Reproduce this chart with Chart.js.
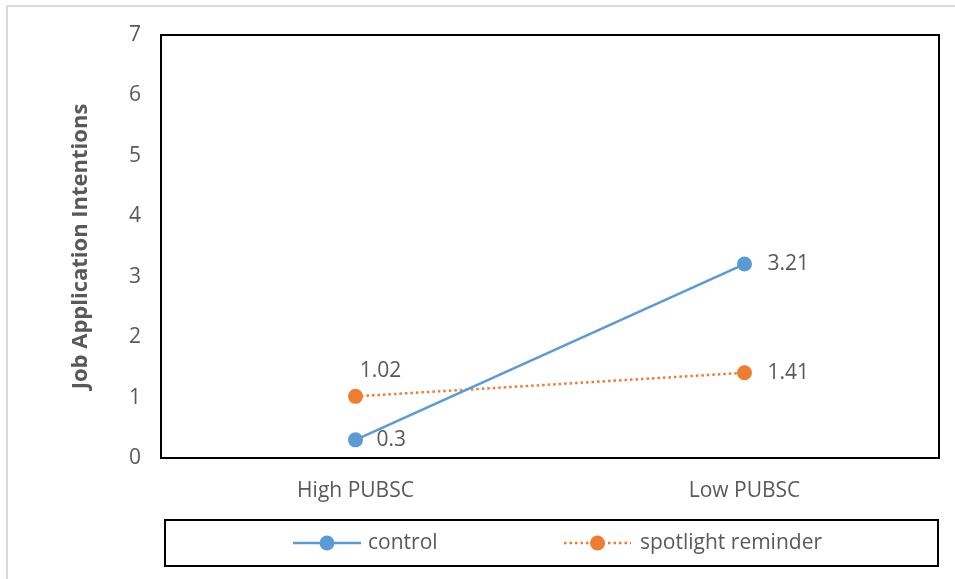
<!DOCTYPE html>
<html>
<head>
<meta charset="utf-8">
<style>
  html, body { margin: 0; padding: 0; background: #ffffff; }
  #wrap { width: 955px; height: 579px; position: relative; }
</style>
<script src="https://cdn.jsdelivr.net/npm/chart.js@4/dist/chart.umd.min.js"></script>
</head>
<body>
<div id="wrap"><canvas id="chart" width="955" height="579"></canvas></div>
<script>
// Categories, series and axis values
const categories = ['High PUBSC', 'Low PUBSC'];
const controlValues = [0.3, 3.21];
const spotlightValues = [1.02, 1.41];
const seriesNames = ['control', 'spotlight reminder'];
const yTicks = [0, 1, 2, 3, 4, 5, 6, 7];
const yTitle = 'Job Application Intentions';

const FONT = '"Open Sans", "Liberation Sans", sans-serif';
const TEXT = '#595959';
const BLUE = '#5B9BD5';
const ORANGE = '#ED7D31';
const SIZE = 21;

// Value labels beside each point: [dx, dy, align]
const labelPlacement = [
  [[21, 0, 'left'], [23, 0, 'left']],
  [[25, -25, 'center'], [23, 0, 'left']]
];

const framePlugin = {
  id: 'frame',
  beforeDraw(chart) {
    const ctx = chart.ctx;
    ctx.save();
    // outer light border
    ctx.strokeStyle = '#d9d9d9';
    ctx.lineWidth = 2;
    ctx.beginPath();
    ctx.moveTo(7, 579);
    ctx.lineTo(7, 6);
    ctx.lineTo(960, 6);
    ctx.stroke();
    ctx.restore();
  },
  afterDatasetsDraw(chart) {
    const ctx = chart.ctx;
    const a = chart.chartArea;
    ctx.save();
    // plot area border
    ctx.strokeStyle = '#000000';
    ctx.lineWidth = 2;
    ctx.strokeRect(a.left, a.top, a.right - a.left, a.bottom - a.top);

    // value labels
    ctx.font = SIZE + 'px ' + FONT;
    ctx.fillStyle = TEXT;
    ctx.textBaseline = 'middle';
    chart.data.datasets.forEach((ds, di) => {
      const meta = chart.getDatasetMeta(di);
      meta.data.forEach((pt, i) => {
        const [dx, dy, align] = labelPlacement[di][i];
        ctx.textAlign = align;
        ctx.fillText(String(ds.data[i]), pt.x + dx, pt.y + dy);
      });
    });

    // legend box
    ctx.strokeStyle = '#000000';
    ctx.lineWidth = 2;
    ctx.strokeRect(165, 520, 773, 46);
    const ly = 543;
    const items = [
      { x0: 293, x1: 361, text: 368 },
      { x0: 564, x1: 631, text: 640 }
    ];
    chart.data.datasets.forEach((ds, di) => {
      const it = items[di];
      ctx.strokeStyle = ds.borderColor;
      ctx.lineWidth = ds.borderWidth;
      ctx.setLineDash(ds.borderDash || []);
      ctx.beginPath();
      ctx.moveTo(it.x0, ly);
      ctx.lineTo(it.x1, ly);
      ctx.stroke();
      ctx.setLineDash([]);
      ctx.fillStyle = ds.pointBackgroundColor;
      ctx.beginPath();
      ctx.arc((it.x0 + it.x1) / 2, ly, ds.pointRadius, 0, Math.PI * 2);
      ctx.fill();
      ctx.fillStyle = TEXT;
      ctx.textAlign = 'left';
      ctx.textBaseline = 'middle';
      ctx.font = SIZE + 'px ' + FONT;
      ctx.fillText(ds.label, it.text, ly);
    });
    ctx.restore();
  }
};

new Chart(document.getElementById('chart'), {
  type: 'line',
  data: {
    labels: categories,
    datasets: [
      {
        label: seriesNames[0],
        data: controlValues,
        borderColor: BLUE,
        backgroundColor: BLUE,
        pointBackgroundColor: BLUE,
        pointBorderWidth: 0,
        borderWidth: 2.5,
        pointRadius: 7.5,
        tension: 0
      },
      {
        label: seriesNames[1],
        data: spotlightValues,
        borderColor: ORANGE,
        backgroundColor: ORANGE,
        pointBackgroundColor: ORANGE,
        pointBorderWidth: 0,
        borderWidth: 2.5,
        borderDash: [2.5, 3],
        pointRadius: 7.5,
        tension: 0
      }
    ]
  },
  options: {
    responsive: false,
    animation: false,
    layout: { padding: { left: 0, top: 35, right: 16, bottom: 0 } },
    plugins: {
      legend: { display: false },
      tooltip: { enabled: false }
    },
    scales: {
      x: {
        offset: true,
        grid: { display: false, drawTicks: false },
        border: { display: false },
        ticks: { color: TEXT, font: { family: FONT, size: SIZE }, padding: 20 },
        afterFit(scale) { scale.height = 121; }
      },
      y: {
        min: 0,
        max: 7,
        afterBuildTicks(scale) { scale.ticks = yTicks.map(v => ({ value: v })); },
        grid: { display: false, drawTicks: false },
        border: { display: false },
        ticks: { color: TEXT, font: { family: FONT, size: SIZE }, padding: 20 },
        title: {
          display: true,
          text: yTitle,
          color: TEXT,
          font: { family: FONT, size: 22, weight: 'bold' },
          padding: { top: 68, bottom: 0 }
        },
        afterFit(scale) { scale.width = 161; }
      }
    }
  },
  plugins: [framePlugin]
});
</script>
</body>
</html>
